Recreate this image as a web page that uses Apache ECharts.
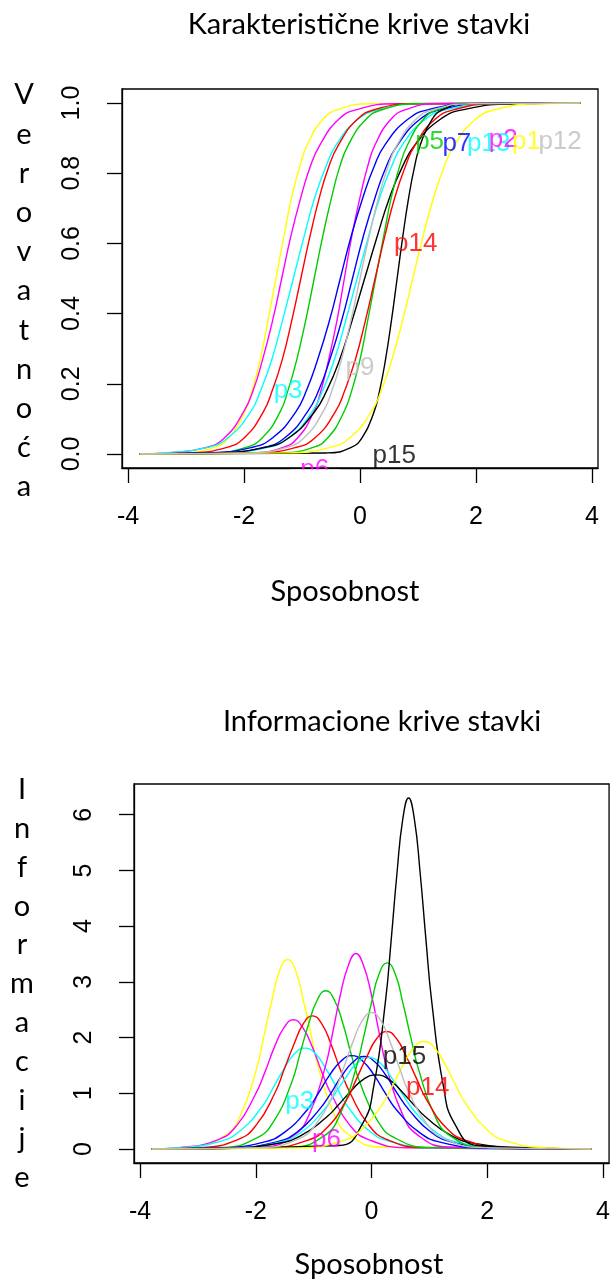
<!DOCTYPE html>
<html><head><meta charset="utf-8">
<script src="https://cdn.jsdelivr.net/npm/echarts@6/dist/echarts.min.js"></script>
<style>html,body{margin:0;padding:0;background:#fff}#c{width:613px;height:1285px}</style>
</head><body><div id="c"></div>
<script>
// ---------------- data ----------------
const xTicks = [-4, -2, 0, 2, 4];
const iccTicks = [0, 0.2, 0.4, 0.6, 0.8, 1.0];
const iicTicks = [0, 1, 2, 3, 4, 5, 6];

const itemNames = ['p11', 'p2', 'p3', 'p4', 'p8', 'p6', 'p7', 'p10', 'p13', 'p12', 'p5', 'p14', 'p15', 'p1', 'p9'];

// ability values (same points used for both panels)
const thetaPts = [
  [-3.8, -3.08, -2.53, -2.26, -1.99, -1.86, -1.72, -1.59, -1.45, -1.31, -1.18, -1.04, -0.91, -0.64, -0.37, 0.18, 3.8],
  [-3.8, -3.32, -2.66, -2.33, -2.01, -1.84, -1.68, -1.51, -1.35, -1.19, -1.02, -0.86, -0.69, -0.37, -0.04, 0.62, 3.8],
  [-3.8, -3.38, -2.64, -2.27, -1.89, -1.71, -1.52, -1.34, -1.15, -0.96, -0.78, -0.59, -0.41, -0.04, 0.34, 1.08, 3.8],
  [-3.8, -2.96, -2.31, -1.99, -1.67, -1.51, -1.34, -1.18, -1.02, -0.86, -0.70, -0.54, -0.37, -0.05, 0.27, 0.92, 3.8],
  [-3.8, -2.57, -1.98, -1.68, -1.38, -1.24, -1.09, -0.94, -0.79, -0.64, -0.49, -0.35, -0.20, 0.10, 0.40, 0.99, 3.8],
  [-3.8, -1.87, -1.34, -1.07, -0.80, -0.67, -0.54, -0.40, -0.27, -0.14, 0.00, 0.13, 0.26, 0.53, 0.80, 1.33, 3.8],
  [-3.8, -2.66, -1.88, -1.50, -1.11, -0.92, -0.73, -0.53, -0.34, -0.15, 0.05, 0.24, 0.43, 0.82, 1.20, 1.98, 3.8],
  [-3.8, -2.46, -1.68, -1.29, -0.91, -0.71, -0.52, -0.32, -0.13, 0.06, 0.26, 0.45, 0.65, 1.03, 1.42, 2.20, 3.8],
  [-3.8, -2.39, -1.61, -1.22, -0.83, -0.64, -0.44, -0.25, -0.05, 0.15, 0.34, 0.54, 0.73, 1.12, 1.51, 2.29, 3.8],
  [-3.8, -2.52, -1.65, -1.22, -0.79, -0.57, -0.35, -0.14, 0.08, 0.30, 0.51, 0.73, 0.95, 1.38, 1.81, 2.68, 3.8],
  [-3.8, -1.37, -0.82, -0.55, -0.28, -0.14, 0.00, 0.13, 0.27, 0.41, 0.54, 0.68, 0.82, 1.09, 1.36, 1.91, 3.8],
  [-3.8, -1.80, -1.12, -0.77, -0.43, -0.26, -0.08, 0.09, 0.26, 0.43, 0.60, 0.78, 0.95, 1.29, 1.64, 2.32, 3.8],
  [-3.8, -0.56, -0.16, 0.04, 0.24, 0.34, 0.44, 0.54, 0.64, 0.74, 0.84, 0.94, 1.04, 1.24, 1.44, 1.84, 3.8],
  [-3.8, -1.25, -0.53, -0.17, 0.19, 0.37, 0.55, 0.73, 0.91, 1.09, 1.27, 1.45, 1.63, 1.99, 2.35, 3.07, 3.8],
  [-3.8, -1.92, -1.28, -0.96, -0.64, -0.48, -0.32, -0.16, 0.00, 0.16, 0.32, 0.48, 0.64, 0.96, 1.28, 1.92, 3.8]
];

// probability levels at those points (item characteristic curves)
const iccLevels = [0, 0.003, 0.018, 0.047, 0.119, 0.182, 0.269, 0.378, 0.5, 0.622, 0.731, 0.818, 0.881, 0.953, 0.982, 0.998, 1];

// information at those points (item information curves)
const infoVals = [
  [0, 0.034, 0.240, 0.614, 1.428, 2.028, 2.674, 3.196, 3.40, 3.196, 2.674, 2.028, 1.428, 0.614, 0.240, 0.034, 0],
  [0, 0.023, 0.164, 0.419, 0.974, 1.384, 1.824, 2.181, 2.32, 2.181, 1.824, 1.384, 0.974, 0.419, 0.164, 0.023, 0],
  [0, 0.018, 0.128, 0.327, 0.760, 1.080, 1.423, 1.701, 1.81, 1.701, 1.423, 1.080, 0.760, 0.327, 0.128, 0.018, 0],
  [0, 0.024, 0.169, 0.432, 1.004, 1.426, 1.880, 2.247, 2.39, 2.247, 1.880, 1.426, 1.004, 0.432, 0.169, 0.024, 0],
  [0, 0.028, 0.201, 0.513, 1.193, 1.694, 2.233, 2.670, 2.84, 2.670, 2.233, 1.694, 1.193, 0.513, 0.201, 0.028, 0],
  [0, 0.035, 0.248, 0.634, 1.474, 2.094, 2.760, 3.299, 3.51, 3.299, 2.760, 2.094, 1.474, 0.634, 0.248, 0.035, 0],
  [0, 0.017, 0.118, 0.303, 0.704, 0.999, 1.317, 1.575, 1.675, 1.575, 1.317, 0.999, 0.704, 0.303, 0.118, 0.017, 0],
  [0, 0.016, 0.117, 0.300, 0.697, 0.990, 1.305, 1.560, 1.66, 1.560, 1.305, 0.990, 0.697, 0.300, 0.117, 0.016, 0],
  [0, 0.016, 0.116, 0.296, 0.689, 0.978, 1.290, 1.542, 1.64, 1.542, 1.290, 0.978, 0.689, 0.296, 0.116, 0.016, 0],
  [0, 0.013, 0.094, 0.240, 0.559, 0.793, 1.046, 1.250, 1.33, 1.250, 1.046, 0.793, 0.559, 0.240, 0.094, 0.013, 0],
  [0, 0.033, 0.236, 0.604, 1.403, 1.993, 2.627, 3.140, 3.34, 3.140, 2.627, 1.993, 1.403, 0.604, 0.236, 0.033, 0],
  [0, 0.021, 0.149, 0.381, 0.886, 1.259, 1.659, 1.983, 2.11, 1.983, 1.659, 1.259, 0.886, 0.381, 0.149, 0.021, 0],
  [0, 0.062, 0.445, 1.138, 2.646, 3.759, 4.954, 5.922, 6.30, 5.922, 4.954, 3.759, 2.646, 1.138, 0.445, 0.062, 0],
  [0, 0.019, 0.136, 0.349, 0.811, 1.151, 1.518, 1.814, 1.93, 1.814, 1.518, 1.151, 0.811, 0.349, 0.136, 0.019, 0],
  [0, 0.024, 0.173, 0.443, 1.029, 1.462, 1.927, 2.303, 2.45, 2.303, 1.927, 1.462, 1.029, 0.443, 0.173, 0.024, 0]
];

// item labels as placed in each panel: [text, ability, value]
const iccLabels = [
  ['p15', 0.59, -0.005], ['p6', -0.78, -0.045], ['p3', -1.24, 0.18], ['p9', 0.0, 0.245],
  ['p14', 0.96, 0.60], ['p5', 1.20, 0.89], ['p7', 1.67, 0.885], ['p13', 2.22, 0.885],
  ['p2', 2.47, 0.895], ['p1', 2.87, 0.89], ['p12', 3.45, 0.89]
];
const iicLabels = [
  ['p3', -1.24, 0.85], ['p6', -0.78, 0.16], ['p15', 0.57, 1.65], ['p14', 0.97, 1.10]
];

const titles = ['Karakteristične krive stavki', 'Informacione krive stavki'];
const xName = 'Sposobnost';
const yNames = ['Verovatnoća', 'Informacije'];

// ---------------- styles ----------------
const pal = {black: '#000000', red: '#FF0000', green: '#00CD00', blue: '#0000FF',
             cyan: '#00FFFF', magenta: '#FF00FF', yellow: '#FFFF00', gray: '#BEBEBE'};
const itemColor = {p11: 'yellow', p2: 'magenta', p3: 'cyan', p4: 'red', p8: 'green', p6: 'magenta',
  p7: 'blue', p10: 'blue', p13: 'cyan', p12: 'black', p5: 'green', p14: 'red', p15: 'black',
  p1: 'yellow', p9: 'gray'};
const labelColor = Object.assign({}, itemColor, {p12: 'gray', p9: 'gray'});

const tickFont = "'Liberation Sans', Arial, sans-serif";
const textFont = "Lato, 'Open Sans', sans-serif";

function makeAxes(gi, yMin, yMax, yTicks, fmt) {
  const x = {
    gridIndex: gi, type: 'value', min: -4.104, max: 4.104,
    splitLine: {show: false},
    axisLine: {show: true, onZero: false, lineStyle: {color: '#000', width: 1.3}},
    axisTick: {show: true, customValues: xTicks, length: 15, lineStyle: {color: '#000', width: 1.3}},
    axisLabel: {show: true, customValues: xTicks, margin: 37, fontSize: 25, color: '#000', fontFamily: tickFont}
  };
  const y = {
    gridIndex: gi, type: 'value', min: yMin, max: yMax,
    splitLine: {show: false},
    axisLine: {show: true, onZero: false, lineStyle: {color: '#000', width: 1.3}},
    axisTick: {show: true, customValues: yTicks, length: 15, lineStyle: {color: '#000', width: 1.3}},
    axisLabel: {show: true, customValues: yTicks, margin: 37, rotate: 90, fontSize: 25, color: '#000',
      fontFamily: tickFont, formatter: fmt}
  };
  return [x, y];
}
const a0 = makeAxes(0, -0.04, 1.04, iccTicks, v => Number(v).toFixed(1));
const a1 = makeAxes(1, -0.252, 6.552, iicTicks, v => String(Math.round(v)));

const series = [];
itemNames.forEach((n, i) => {
  const col = pal[itemColor[n]];
  const common = {type: 'line', name: n, showSymbol: false, symbol: 'none', smooth: 0.5,
    silent: true, animation: false, clip: true,
    lineStyle: {color: col, width: 1.4}, itemStyle: {color: col}};
  series.push(Object.assign({}, common, {xAxisIndex: 0, yAxisIndex: 0,
    data: thetaPts[i].map((t, k) => [t, iccLevels[k]])}));
  series.push(Object.assign({}, common, {xAxisIndex: 1, yAxisIndex: 1,
    data: thetaPts[i].map((t, k) => [t, infoVals[i][k]])}));
});
function labelSeries(gi, labs) {
  return {type: 'scatter', xAxisIndex: gi, yAxisIndex: gi, symbolSize: 1, silent: true, animation: false,
    itemStyle: {color: 'rgba(0,0,0,0)'}, z: 5, clip: false,
    label: {show: true, position: 'inside', fontSize: 26, fontFamily: tickFont,
      formatter: p => p.name},
    labelLayout: {hideOverlap: false},
    data: labs.map(l => ({name: l[0], value: [l[1], l[2]],
      label: {color: pal[labelColor[l[0]]]}}))};
}
series.push(labelSeries(0, iccLabels));
series.push(labelSeries(1, iicLabels));

const txt = (s, x, y, size, extra) => ({type: 'text', x: x, y: y, z: 50,
  style: Object.assign({text: s, fontSize: size, fontFamily: textFont, fill: '#000',
    textAlign: 'center', textVerticalAlign: 'middle'}, extra || {})});

const option = {
  backgroundColor: '#fff',
  animation: false,
  grid: [
    {left: 122, top: 89, width: 476, height: 379, show: true, borderColor: '#000', borderWidth: 1.3, backgroundColor: 'transparent'},
    {left: 134, top: 784, width: 476, height: 379, show: true, borderColor: '#000', borderWidth: 1.3, backgroundColor: 'transparent'}
  ],
  xAxis: [a0[0], a1[0]],
  yAxis: [a0[1], a1[1]],
  series: series,
  graphic: [
    txt(titles[0], 359, 25, 29),
    txt(xName, 345, 592, 29),
    txt(titles[1], 382, 722, 29),
    txt(xName, 369, 1265, 29),
    txt(yNames[0].split('').join('\n'), 24, 75.5, 29, {textVerticalAlign: 'top', lineHeight: 39.2}),
    txt(yNames[1].split('').join('\n'), 22, 770.5, 29, {textVerticalAlign: 'top', lineHeight: 38.8}),
    {type: 'rect', z: 100, shape: {x: 290, y: 469.5, width: 50, height: 13}, style: {fill: '#fff'}}
  ]
};
const chart = echarts.init(document.getElementById('c'), null, {renderer: 'canvas', width: 613, height: 1285});
chart.setOption(option);
</script></body></html>
